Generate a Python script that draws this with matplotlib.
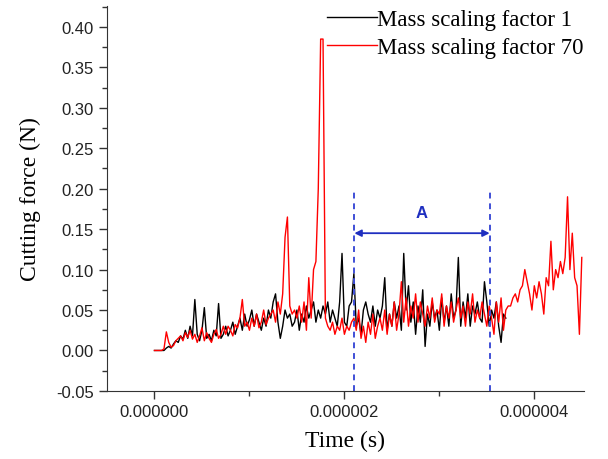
import numpy as np
import matplotlib
matplotlib.use("Agg")
import matplotlib.pyplot as plt
from matplotlib.ticker import MultipleLocator, FuncFormatter

# sampling step of both signals (s)
DT = 0.025e-6

# cutting force, mass scaling factor 1 (N)
force_ms1 = [
    0.000, 0.000, 0.000, 0.000, 0.000, 0.003, 0.005, 0.003, 0.008, 0.012,
    0.010, 0.018, 0.014, 0.025, 0.015, 0.030, 0.018, 0.063, 0.020, 0.012,
    0.025, 0.053, 0.015, 0.020, 0.012, 0.025, 0.018, 0.058, 0.015, 0.020,
    0.030, 0.018, 0.025, 0.035, 0.020, 0.030, 0.040, 0.025, 0.045, 0.030,
    0.038, 0.050, 0.030, 0.045, 0.035, 0.025, 0.040, 0.030, 0.050, 0.040,
    0.060, 0.070, 0.035, 0.015, 0.030, 0.050, 0.040, 0.045, 0.030, 0.035,
    0.050, 0.025, 0.045, 0.035, 0.055, 0.040, 0.050, 0.060, 0.035, 0.050,
    0.040, 0.055, 0.045, 0.060, 0.035, 0.050, 0.040, 0.030, 0.060, 0.120,
    0.035, 0.030, 0.055, 0.060, 0.095, 0.030, 0.040, 0.020, 0.050, 0.060,
    0.045, 0.035, 0.055, 0.030, 0.050, 0.040, 0.055, 0.090, 0.025, 0.045,
    0.030, 0.060, 0.040, 0.055, 0.025, 0.120, 0.050, 0.080, 0.035, 0.060,
    0.020, 0.055, 0.035, 0.075, 0.005, 0.045, 0.030, 0.060, 0.040, 0.050,
    0.025, 0.065, 0.035, 0.055, 0.030, 0.070, 0.040, 0.050, 0.115, 0.030,
    0.060, 0.040, 0.070, 0.030, 0.055, 0.045, 0.060, 0.040, 0.035, 0.085,
    0.060, 0.030, 0.050, 0.040, 0.060, 0.030, 0.010, 0.045, 0.040,
]

# cutting force, mass scaling factor 70 (N)
force_ms70 = [
    0.000, 0.000, 0.000, 0.000, 0.002, 0.023, 0.010, 0.004, 0.006, 0.012,
    0.015, 0.018, 0.012, 0.022, 0.016, 0.025, 0.014, 0.020, 0.010, 0.018,
    0.028, 0.012, 0.022, 0.015, 0.010, 0.020, 0.026, 0.015, 0.020, 0.030,
    0.020, 0.030, 0.025, 0.018, 0.032, 0.028, 0.040, 0.063, 0.030, 0.035,
    0.025, 0.040, 0.030, 0.045, 0.028, 0.035, 0.050, 0.032, 0.040, 0.045,
    0.050, 0.035, 0.060, 0.045, 0.070, 0.140, 0.165, 0.055, 0.045, 0.050,
    0.040, 0.055, 0.035, 0.060, 0.025, 0.090, 0.040, 0.100, 0.110, 0.200,
    0.385, 0.385, 0.040, 0.030, 0.025, 0.035, 0.020, 0.030, 0.025, 0.040,
    0.020, 0.030, 0.025, 0.035, 0.040, 0.025, 0.050, 0.015, 0.030, 0.010,
    0.035, 0.020, 0.045, 0.015, 0.030, 0.040, 0.025, 0.050, 0.020, 0.045,
    0.030, 0.060, 0.025, 0.045, 0.085, 0.035, 0.065, 0.030, 0.055, 0.040,
    0.070, 0.035, 0.060, 0.045, 0.030, 0.055, 0.040, 0.065, 0.035, 0.050,
    0.045, 0.070, 0.030, 0.055, 0.040, 0.060, 0.035, 0.050, 0.065, 0.040,
    0.055, 0.030, 0.060, 0.045, 0.070, 0.035, 0.050, 0.040, 0.060, 0.045,
    0.030, 0.055, 0.040, 0.020, 0.060, 0.035, 0.065, 0.025, 0.050, 0.055,
    0.055, 0.065, 0.070, 0.060, 0.075, 0.080, 0.100, 0.085, 0.070, 0.050,
    0.080, 0.065, 0.085, 0.070, 0.045, 0.090, 0.080, 0.135, 0.075, 0.100,
    0.090, 0.110, 0.095, 0.115, 0.190, 0.100, 0.145, 0.090, 0.080, 0.020,
    0.115,
]

# region A bounds (s) and annotation heights (N)
region_a = (2.105e-6, 3.53e-6)
region_top = 0.20
arrow_y = 0.145

series_labels = ["Mass scaling factor 1", "Mass scaling factor 70"]

t_ms1 = np.arange(len(force_ms1)) * DT
t_ms70 = np.arange(len(force_ms70)) * DT

fig = plt.figure(figsize=(6.08, 4.60), dpi=100)
ax = fig.add_axes([0.176, 0.148, 0.784, 0.837])

ax.plot(t_ms1, force_ms1, color="black", lw=1.0, label=series_labels[0])
ax.plot(t_ms70, force_ms70, color="red", lw=1.0, label=series_labels[1])

# region A markers
ax.vlines(region_a, -0.05, region_top, colors="#3f4fd6", linestyles=(0, (3, 2.5)), lw=1.4)
ax.annotate("", xy=(region_a[0], arrow_y), xytext=(region_a[1], arrow_y),
            arrowprops=dict(arrowstyle="<|-|>", color="#1f2fc0", lw=1.3,
                            shrinkA=0, shrinkB=0, mutation_scale=10))
ax.text(sum(region_a) / 2, 0.171, "A", color="#1f2fc0", fontsize=12,
        fontweight="bold", family="Liberation Sans", ha="center", va="center")

ax.set_xlim(-0.5e-6, 4.52e-6)
ax.set_ylim(-0.05, 0.426)
ax.xaxis.set_major_locator(MultipleLocator(2e-6))
ax.xaxis.set_minor_locator(MultipleLocator(1e-6))
ax.xaxis.set_major_formatter(FuncFormatter(lambda v, p: f"{v:.6f}"))
ax.yaxis.set_major_locator(MultipleLocator(0.05))
ax.yaxis.set_minor_locator(MultipleLocator(0.025))
ax.yaxis.set_major_formatter(FuncFormatter(lambda v, p: f"{v:.2f}"))

for s in ["top", "right"]:
    ax.spines[s].set_visible(False)
for s in ["left", "bottom"]:
    ax.spines[s].set_color("#333333")
ax.tick_params(which="major", direction="out", length=6, width=1, color="#333333")
ax.tick_params(which="minor", direction="out", length=3.5, width=1, color="#333333")
for lbl in ax.get_xticklabels() + ax.get_yticklabels():
    lbl.set_family("Liberation Sans")
    lbl.set_fontsize(12)
    lbl.set_color("#222222")

ax.set_xlabel("Time (s)", family="Liberation Serif", fontsize=17, labelpad=8)
ax.set_ylabel("Cutting force (N)", family="Liberation Serif", fontsize=17, labelpad=11)

leg = fig.legend(loc="upper left", bbox_to_anchor=(327 / 608, 1 - 10 / 460),
                 frameon=False, borderpad=0, borderaxespad=0, handlelength=2.2,
                 handletextpad=0, labelspacing=0.3,
                 prop={"family": "Liberation Serif", "size": 16.5})

fig.savefig("out.png", dpi=100)
